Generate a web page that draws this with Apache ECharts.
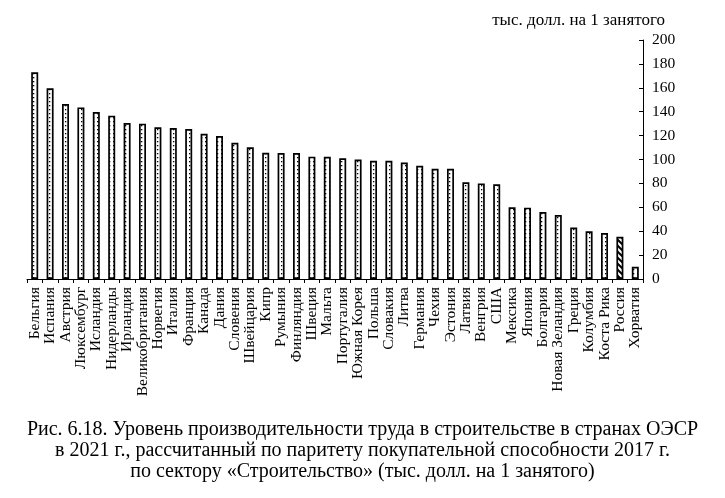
<!DOCTYPE html>
<html><head><meta charset="utf-8">
<script src="https://cdn.jsdelivr.net/npm/echarts@6/dist/echarts.min.js"></script>
<style>html,body{margin:0;padding:0;background:#fff}#c{width:725px;height:498px}</style>
</head><body><div id="c"></div>
<script>
const categories = ["Бельгия","Испания","Австрия","Люксембург","Исландия","Нидерланды","Ирландия","Великобритания","Норвегия","Италия","Франция","Канада","Дания","Словения","Швейцария","Кипр","Румыния","Финляндия","Швеция","Мальта","Португалия","Южная Корея","Польша","Словакия","Литва","Германия","Чехия","Эстония","Латвия","Венгрия","США","Мексика","Япония","Болгария","Новая Зеландия","Греция","Колумбия","Коста Рика","Россия","Хорватия"];
const values = [173,159.6,146.4,143.6,139.7,136.7,130.5,130,127,126.4,125.5,121.6,119.7,114,110.2,105.7,105.4,105.4,102.4,102.2,101,99.9,99,99,97.4,94.8,92.3,92.3,80.9,80,79.2,60,59.7,56,53.5,43,39.9,38.5,35.4,10.3];
const highlight = "Россия";
const yTicks = [0,20,40,60,80,100,120,140,160,180,200];
const unitLabel = "тыс. долл. на 1 занятого";
const captionLines = ["Рис. 6.18. Уровень производительности труда в строительстве в странах ОЭСР","в 2021 г., рассчитанный по паритету покупательной способности 2017 г.","по сектору «Строительство» (тыс. долл. на 1 занятого)"];

function dotPattern(){
  const c=document.createElement('canvas');c.width=4;c.height=4;
  const g=c.getContext('2d');g.fillStyle='#fff';g.fillRect(0,0,4,4);
  g.fillStyle='#000';g.fillRect(1,1,1.3,1.3);
  return c;
}
function hatchPattern(){
  const c=document.createElement('canvas');c.width=6;c.height=6;
  const g=c.getContext('2d');g.fillStyle='#fff';g.fillRect(0,0,6,6);
  g.strokeStyle='#000';g.lineWidth=2;
  g.beginPath();g.moveTo(-1,-1);g.lineTo(7,7);g.moveTo(-4,2);g.lineTo(4,10);g.moveTo(2,-4);g.lineTo(10,4);g.stroke();
  return c;
}
const dots={image:dotPattern(),repeat:'repeat'};
const hatch={image:hatchPattern(),repeat:'repeat'};

const chart=echarts.init(document.getElementById('c'),null,{renderer:'canvas'});
const font="'Liberation Serif','Times New Roman',serif";
chart.setOption({
  animation:false,
  textStyle:{fontFamily:font},
  grid:{left:27,right:82,top:40,bottom:219},
  xAxis:{type:'category',data:categories,
    axisLine:{lineStyle:{color:'#000',width:1}},
    axisTick:{show:true,length:4,lineStyle:{color:'#000'}},
    axisLabel:{rotate:90,interval:0,color:'#000',fontSize:15.5,fontFamily:font,margin:8}},
  yAxis:{type:'value',position:'right',min:0,max:200,interval:20,
    splitLine:{show:false},
    axisLine:{show:true,lineStyle:{color:'#000',width:1}},
    axisTick:{show:true,inside:true,length:4,lineStyle:{color:'#000'}},
    axisLabel:{color:'#000',fontSize:15.5,fontFamily:font,margin:9,
      formatter:v=>yTicks.includes(v)?String(v):''}},
  series:[{type:'bar',barWidth:7,
    data:values.map((v,i)=>({value:v,itemStyle:{color:categories[i]===highlight?hatch:dots}})),
    itemStyle:{borderColor:'#000',borderWidth:1.7}}],
  graphic:[
    {type:'text',right:60,top:12,style:{text:unitLabel,font:"17px "+font,fill:'#000'}},
    ...captionLines.map((t,i)=>({type:'text',left:'center',top:420+i*21,style:{text:t,font:"20px "+font,fill:'#000'}}))
  ]
});
</script></body></html>
